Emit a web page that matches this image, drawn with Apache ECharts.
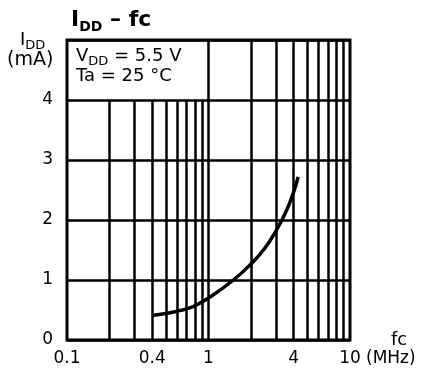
<!DOCTYPE html>
<html>
<head>
<meta charset="utf-8">
<script src="https://cdn.jsdelivr.net/npm/echarts@6/dist/echarts.min.js"></script>
<style>
  html, body { margin: 0; padding: 0; background: #fff; }
  #main { width: 422px; height: 373px; }
</style>
</head>
<body>
<div id="main"></div>
<script>
// 曲线数据 (fc MHz -> IDD mA)
var fcVals = [0.4, 0.5, 0.6, 0.7, 0.8, 1, 1.5, 2, 2.5, 3, 3.5, 4, 4.3];
var iddVals = [0.41, 0.44, 0.48, 0.52, 0.57, 0.70, 1.0, 1.27, 1.53, 1.82, 2.12, 2.47, 2.72];

// 刻度标签
var xTickLabels = [0.1, 0.4, 1, 4, 10];
var yTicks = [0, 1, 2, 3, 4];

// 竖网格线: 第一十倍程只画到4 (上面是说明框)
var gridLow = [0.2, 0.3, 0.4, 0.5, 0.6, 0.7, 0.8, 0.9];
var gridHigh = [1, 2, 3, 4, 5, 6, 7, 8, 9];

var font = 'DejaVu Sans';
var myChart = echarts.init(document.getElementById('main'));

var vLines = [];
gridLow.forEach(function (x) {
    vLines.push([{ coord: [x, 0] }, { coord: [x, 4] }]);
});
gridHigh.forEach(function (x) {
    vLines.push([{ coord: [x, 0] }, { coord: [x, 5] }]);
});

var curve = fcVals.map(function (x, i) { return [x, iddVals[i]]; });

var option = {
    animation: false,
    backgroundColor: '#fff',
    title: {
        left: 66,
        top: 4,
        text: '{i|I}{s|DD}{i| – fc}',
        textStyle: {
            rich: {
                i: { fontFamily: font, fontSize: 22, fontWeight: 'bold', color: '#000', verticalAlign: 'bottom' },
                s: { fontFamily: font, fontSize: 14, fontWeight: 'bold', color: '#000', verticalAlign: 'bottom', padding: [0, 0, -3, 0] }
            }
        }
    },
    grid: {
        left: 67,
        right: 72,
        top: 40,
        bottom: 33,
        show: true,
        borderColor: '#000',
        borderWidth: 3
    },
    xAxis: {
        type: 'log',
        logBase: 10,
        min: 0.1,
        max: 10,
        axisLine: { show: false },
        axisTick: { show: false },
        splitLine: { show: false },
        axisLabel: {
            customValues: xTickLabels,
            color: '#000',
            fontFamily: font,
            fontSize: 17,
            margin: 10,
            formatter: function (v) { return String(v); }
        }
    },
    yAxis: {
        type: 'value',
        min: 0,
        max: 5,
        interval: 1,
        axisLine: { show: false },
        axisTick: { show: false },
        splitLine: { show: true, lineStyle: { color: '#000', width: 2.5 } },
        axisLabel: {
            color: '#000',
            fontFamily: font,
            fontSize: 17,
            margin: 14,
            formatter: function (v) { return yTicks.indexOf(v) >= 0 ? String(v) : ''; }
        }
    },
    graphic: [
        {
            type: 'text',
            left: 7,
            top: 31,
            style: {
                text: '{i|I}{s|DD}\n{t|(mA)}',
                rich: {
                    i: { fontFamily: font, fontSize: 18, color: '#000', verticalAlign: 'bottom', padding: [0, 0, 0, 13] },
                    s: { fontFamily: font, fontSize: 13, color: '#000', verticalAlign: 'bottom', padding: [0, 0, -3, 0] },
                    t: { fontFamily: font, fontSize: 19, color: '#000', lineHeight: 22 }
                }
            }
        },
        {
            type: 'text',
            left: 76,
            top: 47,
            style: {
                text: '{t|V}{s|DD}{t| = 5.5 V}\n{t|Ta = 25 °C}',
                rich: {
                    t: { fontFamily: font, fontSize: 18, color: '#000', verticalAlign: 'bottom', lineHeight: 20 },
                    s: { fontFamily: font, fontSize: 13, color: '#000', verticalAlign: 'bottom', padding: [0, 0, -3, 0] }
                }
            }
        },
        {
            type: 'text',
            left: 391,
            top: 331,
            style: { text: 'fc', fontFamily: font, fontSize: 18, fill: '#000' }
        },
        {
            type: 'text',
            left: 366,
            top: 350,
            style: { text: '(MHz)', fontFamily: font, fontSize: 17, fill: '#000' }
        }
    ],
    series: [
        {
            type: 'line',
            data: curve,
            smooth: true,
            showSymbol: false,
            lineStyle: { color: '#000', width: 3.5 },
            z: 5,
            markLine: {
                silent: true,
                symbol: 'none',
                label: { show: false },
                lineStyle: { color: '#000', width: 2.5, type: 'solid' },
                data: vLines
            }
        }
    ]
};
myChart.setOption(option);
</script>
</body>
</html>
